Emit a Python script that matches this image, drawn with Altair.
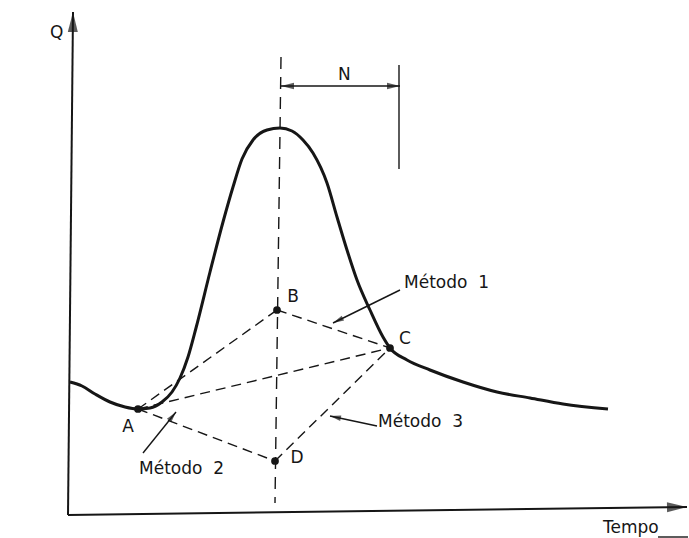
import math
import altair as alt
import pandas as pd

# Hydrograph: time (t) vs discharge (Q), arbitrary units
curve_t = [0, 12, 25, 40, 55, 68, 80, 92, 102, 110, 118, 126, 140, 153, 163, 172, 183, 197, 210,
           222, 233, 243, 257, 267, 277, 287, 300, 313, 320, 337, 360, 393, 427, 460, 493, 538]
curve_q = [130, 126, 118, 110, 105, 103, 104, 110, 120, 134, 155, 184, 240, 290, 325, 353, 372, 382, 384,
           381, 372, 359, 329, 295, 262, 232, 202, 175, 164, 152, 142, 130, 120, 114, 108, 103]

# Separation points
pt_names = ["A", "B", "C", "D"]
pt_t = [68, 207, 320, 205]
pt_q = [103, 202, 164, 51]

# Point labels
lab_t = [58, 223, 335, 227]
lab_q = [85, 215, 173, 54]

# Dashed separation lines between points (by name)
dashed_pairs = [("A", "B"), ("B", "C"), ("A", "C"), ("A", "D"), ("D", "C")]

# Vertical line through the peak
peak_line_t = [211, 205]
peak_line_q = [455, 9]

# Axes (start, tip)
axis_x_t = [-2, 617]
axis_x_q = [-3, 5]
axis_y_t = [-2, 3]
axis_y_q = [-3, 500]

# N dimension
n_dim_t = [211, 330]
n_dim_q = [426, 426]
n_bar_t = [329, 329]
n_bar_q = [447, 343]

# Method leaders (from text end to arrow tip)
lead_names = ["Método\u00a0\u00a01", "Método\u00a0\u00a02", "Método\u00a0\u00a03"]
lead_t0 = [330, 73, 307]
lead_q0 = [222, 59, 86]
lead_t1 = [263, 106, 260]
lead_q1 = [189, 100, 96]
lead_text_t = [334, 69, 308]
lead_text_q = [229, 43, 90]

# Other captions
cap_text = ["Q", "N", "Tempo"]
cap_t = [-20, 268, 533]
cap_q = [479, 437, -16]
underline_t = [588, 618]
underline_q = [-25, -25]

XS = alt.Scale(domain=[-70, 619], nice=False, zero=False)
YS = alt.Scale(domain=[-26, 512], nice=False, zero=False)
INK = "#161616"
FONT = "DejaVu Sans"
# arrowhead outline with its tip at the symbol origin, pointing up
ARROW = "M0,0L0.5,2L-0.5,2Z"


def ang(t0, q0, t1, q1):
    return float(math.degrees(math.atan2(t1 - t0, q1 - q0)) % 360)


def seg_layer(df, width, dash=None):
    kw = dict(color=INK, strokeWidth=width, strokeCap="butt")
    if dash:
        kw["strokeDash"] = dash
    return alt.Chart(df).mark_rule(**kw).encode(
        x=alt.X("t0:Q", scale=XS, axis=None),
        y=alt.Y("q0:Q", scale=YS, axis=None),
        x2="t1:Q",
        y2="q1:Q",
    )


pos = dict(zip(pt_names, zip(pt_t, pt_q)))
dashed_df = pd.DataFrame([
    dict(t0=pos[a][0], q0=pos[a][1], t1=pos[b][0], q1=pos[b][1]) for a, b in dashed_pairs
])
peak_df = pd.DataFrame(dict(t0=[peak_line_t[0]], q0=[peak_line_q[0]],
                            t1=[peak_line_t[1]], q1=[peak_line_q[1]]))

axes_df = pd.DataFrame(dict(t0=[axis_x_t[0], axis_y_t[0]], q0=[axis_x_q[0], axis_y_q[0]],
                            t1=[axis_x_t[1], axis_y_t[1]], q1=[axis_x_q[1], axis_y_q[1]]))

thin_df = pd.DataFrame(dict(
    t0=[n_dim_t[0], n_bar_t[0], underline_t[0]] + lead_t0,
    q0=[n_dim_q[0], n_bar_q[0], underline_q[0]] + lead_q0,
    t1=[n_dim_t[1], n_bar_t[1], underline_t[1]] + lead_t1,
    q1=[n_dim_q[1], n_bar_q[1], underline_q[1]] + lead_q1,
))

curve_df = pd.DataFrame(dict(t=curve_t, q=curve_q))
pts_df = pd.DataFrame(dict(name=pt_names, t=pt_t, q=pt_q))
labs_df = pd.DataFrame(dict(name=pt_names, t=lab_t, q=lab_q))
lead_txt_df = pd.DataFrame(dict(name=lead_names, t=lead_text_t, q=lead_text_q))
cap_df = pd.DataFrame(dict(name=cap_text, t=cap_t, q=cap_q))

# Arrowheads: tip positions, direction taken from the segment they finish
axis_arrows = pd.DataFrame(dict(
    t=[axis_x_t[1], axis_y_t[1]], q=[axis_x_q[1], axis_y_q[1]],
    a=[ang(axis_x_t[0], axis_x_q[0], axis_x_t[1], axis_x_q[1]),
       ang(axis_y_t[0], axis_y_q[0], axis_y_t[1], axis_y_q[1])],
))
n_arrows = pd.DataFrame(dict(
    t=[n_dim_t[0], n_dim_t[1]], q=[n_dim_q[0], n_dim_q[1]],
    a=[ang(n_dim_t[1], n_dim_q[1], n_dim_t[0], n_dim_q[0]),
       ang(n_dim_t[0], n_dim_q[0], n_dim_t[1], n_dim_q[1])],
))
lead_arrows = pd.DataFrame(dict(
    t=lead_t1, q=lead_q1,
    a=[ang(a, b, c, d) for a, b, c, d in zip(lead_t0, lead_q0, lead_t1, lead_q1)],
))


def arrow_layer(df, size):
    return alt.Chart(df).mark_point(shape=ARROW, filled=True, color=INK, size=size).encode(
        x=alt.X("t:Q", scale=XS, axis=None),
        y=alt.Y("q:Q", scale=YS, axis=None),
        angle=alt.Angle("a:Q", scale=None),
    )


def text_layer(df, align="center"):
    return alt.Chart(df).mark_text(font=FONT, fontSize=17, color=INK, align=align,
                                   baseline="middle").encode(
        x=alt.X("t:Q", scale=XS, axis=None),
        y=alt.Y("q:Q", scale=YS, axis=None),
        text="name:N",
    )


curve = alt.Chart(curve_df).mark_line(color=INK, strokeWidth=3, interpolate="monotone").encode(
    x=alt.X("t:Q", scale=XS, axis=None),
    y=alt.Y("q:Q", scale=YS, axis=None),
    order="t:Q",
)

points = alt.Chart(pts_df).mark_circle(color=INK, size=60, opacity=1).encode(
    x=alt.X("t:Q", scale=XS, axis=None),
    y=alt.Y("q:Q", scale=YS, axis=None),
)

chart = alt.layer(
    seg_layer(axes_df, 2),
    seg_layer(peak_df, 1.4, [12, 8]),
    seg_layer(dashed_df, 1.4, [10, 6]),
    seg_layer(thin_df, 1.4),
    curve,
    points,
    arrow_layer(axis_arrows, 400),
    arrow_layer(n_arrows, 169),
    arrow_layer(lead_arrows, 121),
    text_layer(labs_df),
    text_layer(cap_df, "left"),
    text_layer(lead_txt_df, "left"),
).properties(
    width=689, height=538, autosize=alt.AutoSizeParams(type="none"), padding=0,
    background="white",
).configure_view(stroke=None)

chart.save("out.html", embed_options={"renderer": "svg", "actions": False})
